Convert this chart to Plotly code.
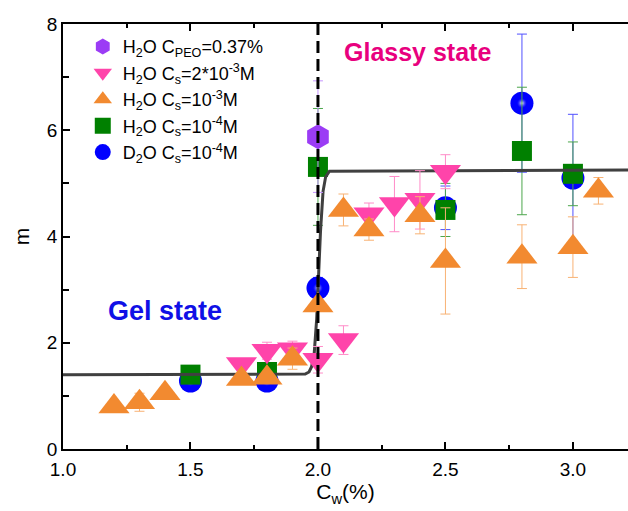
import plotly.graph_objects as go

# ---------------- data ----------------
peo_x = [2.0]
peo_y = [5.88]
peo_err = [1.05]

cs2e3_x = [1.7, 1.8, 1.9, 2.0, 2.1, 2.2, 2.3, 2.4, 2.5]
cs2e3_y = [1.60, 1.85, 1.88, 1.68, 2.05, 4.42, 4.61, 4.69, 5.22]
cs2e3_err = [0.05, 0.16, 0.15, 0.25, 0.27, 0.21, 0.52, 0.55, 0.32]

cs1e3_x = [1.2, 1.3, 1.4, 1.7, 1.8, 1.9, 2.0, 2.1, 2.2, 2.4, 2.5, 2.8, 3.0, 3.1]
cs1e3_y = [0.80, 0.88, 1.05, 1.32, 1.34, 1.70, 2.70, 4.50, 4.13, 4.40, 3.54, 3.62, 3.80, 4.86]
cs1e3_err = [0.03, 0.17, 0.05, 0.05, 0.05, 0.20, 0.10, 0.30, 0.20, 0.35, 1.00, 0.60, 0.57, 0.25]

cs1e4_x = [1.5, 1.8, 2.0, 2.5, 2.8, 3.0]
cs1e4_y = [1.40, 1.45, 5.31, 4.50, 5.61, 5.18]
cs1e4_err = [0.05, 0.05, 1.10, 0.50, 1.20, 0.60]

d2o_x = [1.5, 1.8, 2.0, 2.5, 2.8, 3.0]
d2o_y = [1.28, 1.28, 3.03, 4.54, 6.51, 5.10]
d2o_err = [0.05, 0.05, 0.20, 0.41, 1.30, 1.20]

# fitted step curve
fit_x = [1.00, 1.95, 1.965, 1.975, 1.985, 1.995, 2.003, 2.010, 2.020, 2.030, 2.045, 3.22]
fit_y = [1.40, 1.41, 1.45, 1.55, 1.78, 2.45, 3.33, 4.10, 4.85, 5.12, 5.23, 5.25]

glass_transition_x = 2.0

x_range = [1.0, 3.216]
y_range = [0, 8]
x_ticks = [1.0, 1.5, 2.0, 2.5, 3.0]
x_ticklabels = ["1.0", "1.5", "2.0", "2.5", "3.0"]
y_ticks = [0, 2, 4, 6, 8]
y_ticklabels = ["0", "2", "4", "6", "8"]

FONT = "Liberation Sans, Arial, sans-serif"

fig = go.Figure()

def err(vals, color):
    return dict(type="data", array=vals, visible=True, color=color, thickness=1, width=5)

# D2O (bottom layer)
fig.add_trace(go.Scatter(
    x=d2o_x, y=d2o_y, mode="markers", name="D<sub>2</sub>O C<sub>s</sub>=10<sup>-4</sup>M",
    marker=dict(symbol="circle", size=23, color="#0000FF", line=dict(width=0)),
    error_y=err(d2o_err, "#5050FF"), legendrank=5))
# highlight on spheres
fig.add_trace(go.Scatter(
    x=d2o_x, y=d2o_y, mode="markers", showlegend=False, hoverinfo="skip",
    marker=dict(symbol="circle", size=10, color="rgba(60,60,255,0)",
                gradient=dict(type="radial", color="rgba(255,255,255,1)"),
                line=dict(width=0))))

fig.add_trace(go.Scatter(
    x=cs1e4_x, y=cs1e4_y, mode="markers", name="H<sub>2</sub>O C<sub>s</sub>=10<sup>-4</sup>M",
    marker=dict(symbol="square", size=20, color="#008000", line=dict(width=0)),
    error_y=err(cs1e4_err, "#4CA64C"), legendrank=4))

fig.add_trace(go.Scatter(
    x=fit_x, y=fit_y, mode="lines", showlegend=False, hoverinfo="skip",
    line=dict(color="#404040", width=3)))

fig.add_trace(go.Scatter(
    x=cs2e3_x, y=cs2e3_y, mode="markers", name="H<sub>2</sub>O C<sub>s</sub>=2*10<sup>-3</sup>M",
    marker=dict(symbol="triangle-down", size=27, color="#FF44AA", line=dict(width=0)),
    error_y=err(cs2e3_err, "#FF8CC8"), legendrank=2))

fig.add_trace(go.Scatter(
    x=cs1e3_x, y=cs1e3_y, mode="markers", name="H<sub>2</sub>O C<sub>s</sub>=10<sup>-3</sup>M",
    marker=dict(symbol="triangle-up", size=27, color="#F28A30", line=dict(width=0)),
    error_y=err(cs1e3_err, "#F8B274"), legendrank=3))

fig.add_trace(go.Scatter(
    x=peo_x, y=peo_y, mode="markers", name="H<sub>2</sub>O C<sub>PEO</sub>=0.37%",
    marker=dict(symbol="hexagon", size=25, color="#9B3CF5", line=dict(width=0)),
    error_y=err(peo_err, "#C594FF"), legendrank=1))

fig.add_vline(x=glass_transition_x, line=dict(color="black", width=3, dash="12px,6px"))

fig.add_annotation(x=2.39, y=7.48, text="<b>Glassy state</b>", showarrow=False,
                   font=dict(family=FONT, size=25, color="#E8007E"))
fig.add_annotation(x=1.40, y=2.60, text="<b>Gel state</b>", showarrow=False,
                   font=dict(family=FONT, size=27, color="#1010E6"))

axis_common = dict(showline=True, linecolor="black", linewidth=1.5, showgrid=False,
                   zeroline=False, ticks="inside", ticklen=7, tickwidth=1.5,
                   tickcolor="black", tickfont=dict(family=FONT, size=19, color="black"))

fig.update_xaxes(range=x_range, tickvals=x_ticks, ticktext=x_ticklabels, mirror="ticks",
                 ticklabelstandoff=2,
                 minor=dict(ticks="inside", dtick=0.25, ticklen=4, tickwidth=1.5, tickcolor="black"),
                 title=dict(text="C<sub>w</sub>(%)", font=dict(family=FONT, size=21, color="black"),
                            standoff=6),
                 **axis_common)
fig.update_yaxes(range=y_range, tickvals=y_ticks, ticktext=y_ticklabels, mirror=False,
                 minor=dict(ticks="inside", dtick=1, ticklen=6, tickwidth=1.5, tickcolor="black"),
                 title=dict(text="m", font=dict(family=FONT, size=21, color="black"), standoff=12),
                 **axis_common)

fig.update_layout(
    width=628, height=511,
    margin=dict(l=63, r=0, t=24, b=62),
    plot_bgcolor="white", paper_bgcolor="white",
    font=dict(family=FONT, color="black"),
    legend=dict(x=0.035, y=0.99, xanchor="left", yanchor="top", bgcolor="rgba(0,0,0,0)",
                font=dict(family=FONT, size=18, color="black"), tracegroupgap=0,
                itemsizing="trace"),
)

fig.write_html("out.html")
